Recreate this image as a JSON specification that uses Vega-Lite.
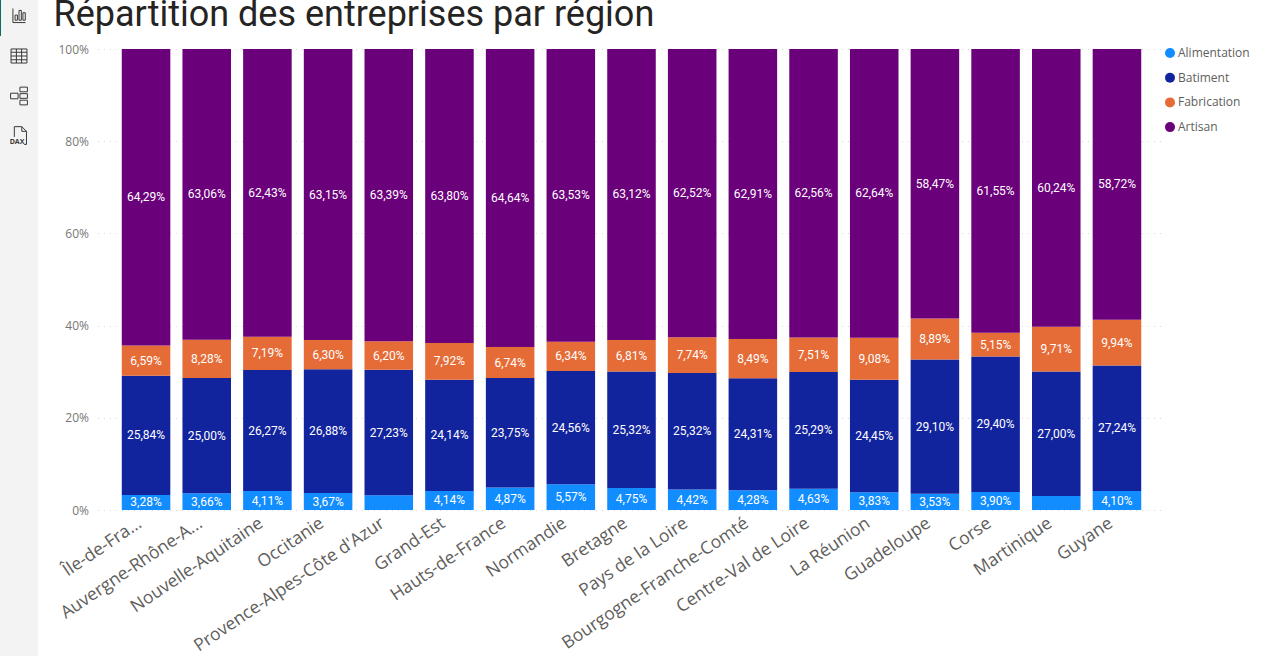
{"$schema":"https://vega.github.io/schema/vega-lite/v6.json","padding":{"left":0,"top":-5,"right":0,"bottom":0},"background":"#ffffff","spacing":15.5,"bounds":"full","config":{"view":{"stroke":null}},"hconcat":[{"width":38,"height":608,"data":{"values":[{"icone":"graphique","ordre":0},{"icone":"table","ordre":1},{"icone":"modele","ordre":2},{"icone":"dax","ordre":3}]},"layer":[{"mark":{"type":"rect","color":"#F3F3F3","clip":false},"encoding":{"x":{"datum":0,"type":"quantitative","scale":{"domain":[0,38],"nice":false,"zero":false},"axis":null},"x2":{"datum":38},"y":{"datum":-0.5,"type":"quantitative","scale":{"domain":[0.825,16.025],"reverse":true,"nice":false,"zero":false},"axis":null},"y2":{"datum":16.025}}},{"mark":{"type":"rect","color":"#0F6B61","clip":false},"encoding":{"x":{"datum":0,"type":"quantitative"},"x2":{"datum":1},"y":{"datum":-0.5,"type":"quantitative"},"y2":{"datum":0.5}}},{"mark":{"type":"point","filled":false,"stroke":"#3b3a39","strokeWidth":1,"size":350,"opacity":1,"shape":"M-.65,-.8V.7H.7 M-.42,.45V-.1H-.17V.45Z M.0,.45V-.6H.25V.45Z M.42,.45V-.35H.67V.45Z"},"transform":[{"filter":"datum.icone=='graphique'"}],"encoding":{"y":{"field":"ordre","type":"quantitative"}}},{"mark":{"type":"point","filled":false,"stroke":"#3b3a39","strokeWidth":1,"size":350,"opacity":1,"shape":"M-.85,-.75H.85V.75H-.85Z M-.85,-.4H.85 M-.85,0H.85 M-.85,.4H.85 M-.28,-.75V.75 M.28,-.75V.75"},"transform":[{"filter":"datum.icone=='table'"}],"encoding":{"y":{"field":"ordre","type":"quantitative"}}},{"mark":{"type":"point","filled":false,"stroke":"#3b3a39","strokeWidth":1,"size":350,"opacity":1,"shape":"M-.9,-.3H-.1V.3H-.9Z M.1,-.95H.9V-.45H.1Z M.1,-.25H.9V.25H.1Z M.1,.45H.9V.95H.1Z"},"transform":[{"filter":"datum.icone=='modele'"}],"encoding":{"y":{"field":"ordre","type":"quantitative"}}},{"mark":{"type":"point","filled":false,"stroke":"#3b3a39","strokeWidth":1,"size":350,"opacity":1,"shape":"M-.5,.1V-1H.3L.8,-.5V.9H.55 M.3,-1V-.5H.8"},"transform":[{"filter":"datum.icone=='dax'"}],"encoding":{"y":{"field":"ordre","type":"quantitative"}}},{"mark":{"type":"text","text":"DAX","font":"Open Sans","fontWeight":"bold","fontSize":7,"color":"#3b3a39","dy":6,"dx":-2},"transform":[{"filter":"datum.icone=='dax'"}],"encoding":{"y":{"field":"ordre","type":"quantitative"}}}]},{"width":1068,"height":461,"title":{"text":"Répartition des entreprises par région","anchor":"start","frame":"group","dx":-44,"offset":9,"font":"Roboto","fontSize":36,"fontWeight":"normal","color":"#252423"},"data":{"values":[{"region":"Île-de-Fra...","categorie":"Alimentation","rang":1,"valeur":3.28,"etiquette":"3,28%"},{"region":"Île-de-Fra...","categorie":"Batiment","rang":2,"valeur":25.84,"etiquette":"25,84%"},{"region":"Île-de-Fra...","categorie":"Fabrication","rang":3,"valeur":6.59,"etiquette":"6,59%"},{"region":"Île-de-Fra...","categorie":"Artisan","rang":4,"valeur":64.29,"etiquette":"64,29%"},{"region":"Auvergne-Rhône-A...","categorie":"Alimentation","rang":1,"valeur":3.66,"etiquette":"3,66%"},{"region":"Auvergne-Rhône-A...","categorie":"Batiment","rang":2,"valeur":25.00,"etiquette":"25,00%"},{"region":"Auvergne-Rhône-A...","categorie":"Fabrication","rang":3,"valeur":8.28,"etiquette":"8,28%"},{"region":"Auvergne-Rhône-A...","categorie":"Artisan","rang":4,"valeur":63.06,"etiquette":"63,06%"},{"region":"Nouvelle-Aquitaine","categorie":"Alimentation","rang":1,"valeur":4.11,"etiquette":"4,11%"},{"region":"Nouvelle-Aquitaine","categorie":"Batiment","rang":2,"valeur":26.27,"etiquette":"26,27%"},{"region":"Nouvelle-Aquitaine","categorie":"Fabrication","rang":3,"valeur":7.19,"etiquette":"7,19%"},{"region":"Nouvelle-Aquitaine","categorie":"Artisan","rang":4,"valeur":62.43,"etiquette":"62,43%"},{"region":"Occitanie","categorie":"Alimentation","rang":1,"valeur":3.67,"etiquette":"3,67%"},{"region":"Occitanie","categorie":"Batiment","rang":2,"valeur":26.88,"etiquette":"26,88%"},{"region":"Occitanie","categorie":"Fabrication","rang":3,"valeur":6.30,"etiquette":"6,30%"},{"region":"Occitanie","categorie":"Artisan","rang":4,"valeur":63.15,"etiquette":"63,15%"},{"region":"Provence-Alpes-Côte d'Azur","categorie":"Alimentation","rang":1,"valeur":3.18,"etiquette":""},{"region":"Provence-Alpes-Côte d'Azur","categorie":"Batiment","rang":2,"valeur":27.23,"etiquette":"27,23%"},{"region":"Provence-Alpes-Côte d'Azur","categorie":"Fabrication","rang":3,"valeur":6.20,"etiquette":"6,20%"},{"region":"Provence-Alpes-Côte d'Azur","categorie":"Artisan","rang":4,"valeur":63.39,"etiquette":"63,39%"},{"region":"Grand-Est","categorie":"Alimentation","rang":1,"valeur":4.14,"etiquette":"4,14%"},{"region":"Grand-Est","categorie":"Batiment","rang":2,"valeur":24.14,"etiquette":"24,14%"},{"region":"Grand-Est","categorie":"Fabrication","rang":3,"valeur":7.92,"etiquette":"7,92%"},{"region":"Grand-Est","categorie":"Artisan","rang":4,"valeur":63.80,"etiquette":"63,80%"},{"region":"Hauts-de-France","categorie":"Alimentation","rang":1,"valeur":4.87,"etiquette":"4,87%"},{"region":"Hauts-de-France","categorie":"Batiment","rang":2,"valeur":23.75,"etiquette":"23,75%"},{"region":"Hauts-de-France","categorie":"Fabrication","rang":3,"valeur":6.74,"etiquette":"6,74%"},{"region":"Hauts-de-France","categorie":"Artisan","rang":4,"valeur":64.64,"etiquette":"64,64%"},{"region":"Normandie","categorie":"Alimentation","rang":1,"valeur":5.57,"etiquette":"5,57%"},{"region":"Normandie","categorie":"Batiment","rang":2,"valeur":24.56,"etiquette":"24,56%"},{"region":"Normandie","categorie":"Fabrication","rang":3,"valeur":6.34,"etiquette":"6,34%"},{"region":"Normandie","categorie":"Artisan","rang":4,"valeur":63.53,"etiquette":"63,53%"},{"region":"Bretagne","categorie":"Alimentation","rang":1,"valeur":4.75,"etiquette":"4,75%"},{"region":"Bretagne","categorie":"Batiment","rang":2,"valeur":25.32,"etiquette":"25,32%"},{"region":"Bretagne","categorie":"Fabrication","rang":3,"valeur":6.81,"etiquette":"6,81%"},{"region":"Bretagne","categorie":"Artisan","rang":4,"valeur":63.12,"etiquette":"63,12%"},{"region":"Pays de la Loire","categorie":"Alimentation","rang":1,"valeur":4.42,"etiquette":"4,42%"},{"region":"Pays de la Loire","categorie":"Batiment","rang":2,"valeur":25.32,"etiquette":"25,32%"},{"region":"Pays de la Loire","categorie":"Fabrication","rang":3,"valeur":7.74,"etiquette":"7,74%"},{"region":"Pays de la Loire","categorie":"Artisan","rang":4,"valeur":62.52,"etiquette":"62,52%"},{"region":"Bourgogne-Franche-Comté","categorie":"Alimentation","rang":1,"valeur":4.28,"etiquette":"4,28%"},{"region":"Bourgogne-Franche-Comté","categorie":"Batiment","rang":2,"valeur":24.31,"etiquette":"24,31%"},{"region":"Bourgogne-Franche-Comté","categorie":"Fabrication","rang":3,"valeur":8.49,"etiquette":"8,49%"},{"region":"Bourgogne-Franche-Comté","categorie":"Artisan","rang":4,"valeur":62.91,"etiquette":"62,91%"},{"region":"Centre-Val de Loire","categorie":"Alimentation","rang":1,"valeur":4.63,"etiquette":"4,63%"},{"region":"Centre-Val de Loire","categorie":"Batiment","rang":2,"valeur":25.29,"etiquette":"25,29%"},{"region":"Centre-Val de Loire","categorie":"Fabrication","rang":3,"valeur":7.51,"etiquette":"7,51%"},{"region":"Centre-Val de Loire","categorie":"Artisan","rang":4,"valeur":62.56,"etiquette":"62,56%"},{"region":"La Réunion","categorie":"Alimentation","rang":1,"valeur":3.83,"etiquette":"3,83%"},{"region":"La Réunion","categorie":"Batiment","rang":2,"valeur":24.45,"etiquette":"24,45%"},{"region":"La Réunion","categorie":"Fabrication","rang":3,"valeur":9.08,"etiquette":"9,08%"},{"region":"La Réunion","categorie":"Artisan","rang":4,"valeur":62.64,"etiquette":"62,64%"},{"region":"Guadeloupe","categorie":"Alimentation","rang":1,"valeur":3.53,"etiquette":"3,53%"},{"region":"Guadeloupe","categorie":"Batiment","rang":2,"valeur":29.10,"etiquette":"29,10%"},{"region":"Guadeloupe","categorie":"Fabrication","rang":3,"valeur":8.89,"etiquette":"8,89%"},{"region":"Guadeloupe","categorie":"Artisan","rang":4,"valeur":58.47,"etiquette":"58,47%"},{"region":"Corse","categorie":"Alimentation","rang":1,"valeur":3.90,"etiquette":"3,90%"},{"region":"Corse","categorie":"Batiment","rang":2,"valeur":29.40,"etiquette":"29,40%"},{"region":"Corse","categorie":"Fabrication","rang":3,"valeur":5.15,"etiquette":"5,15%"},{"region":"Corse","categorie":"Artisan","rang":4,"valeur":61.55,"etiquette":"61,55%"},{"region":"Martinique","categorie":"Alimentation","rang":1,"valeur":3.05,"etiquette":""},{"region":"Martinique","categorie":"Batiment","rang":2,"valeur":27.00,"etiquette":"27,00%"},{"region":"Martinique","categorie":"Fabrication","rang":3,"valeur":9.71,"etiquette":"9,71%"},{"region":"Martinique","categorie":"Artisan","rang":4,"valeur":60.24,"etiquette":"60,24%"},{"region":"Guyane","categorie":"Alimentation","rang":1,"valeur":4.10,"etiquette":"4,10%"},{"region":"Guyane","categorie":"Batiment","rang":2,"valeur":27.24,"etiquette":"27,24%"},{"region":"Guyane","categorie":"Fabrication","rang":3,"valeur":9.94,"etiquette":"9,94%"},{"region":"Guyane","categorie":"Artisan","rang":4,"valeur":58.72,"etiquette":"58,72%"}]},"encoding":{"x":{"field":"region","type":"nominal","sort":null,"title":null,"scale":{"paddingInner":0.2,"paddingOuter":0.4},"axis":{"labelAngle":-34,"labelAlign":"right","labelBaseline":"top","labelFont":"Open Sans","labelFontSize":17.5,"labelColor":"#605E5C","labelLimit":0,"labelPadding":4,"labelOffset":-11,"ticks":false,"domain":false,"grid":false}},"y":{"field":"valeur","type":"quantitative","stack":"normalize","title":null,"axis":{"values":[0,0.2,0.4,0.6,0.8,1],"format":".0%","labelFont":"Open Sans","labelFontSize":12,"labelColor":"#777777","labelPadding":9,"ticks":false,"domain":false,"grid":true,"gridColor":"#D9D9D9","gridDash":[1,5],"gridWidth":1}},"order":{"field":"rang","type":"quantitative"}},"layer":[{"mark":{"type":"bar"},"encoding":{"color":{"field":"categorie","type":"nominal","scale":{"domain":["Alimentation","Batiment","Fabrication","Artisan"],"range":["#118DFF","#12239E","#E66C37","#6B007B"]},"legend":{"title":null,"orient":"none","legendX":1164,"legendY":-2,"symbolType":"circle","symbolSize":100,"symbolStrokeWidth":0,"labelFont":"Open Sans","labelFontSize":12,"labelColor":"#605E5C","rowPadding":12.7,"labelOffset":2,"padding":0}}}},{"mark":{"type":"text","color":"#ffffff","font":"Roboto","fontSize":12,"align":"center","baseline":"middle"},"encoding":{"y":{"field":"valeur","type":"quantitative","stack":"normalize","bandPosition":0.5},"text":{"field":"etiquette","type":"nominal"}}}]}]}
